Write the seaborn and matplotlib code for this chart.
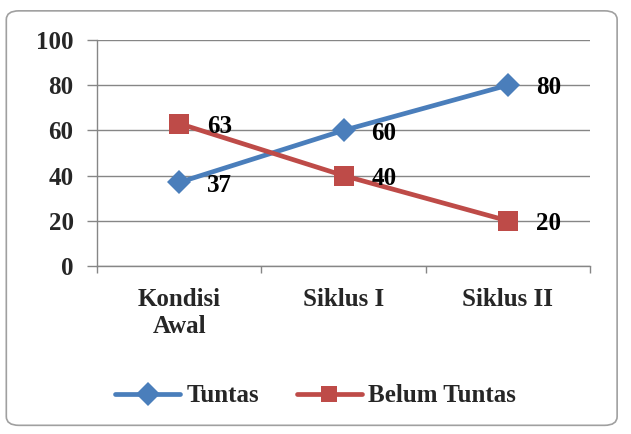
import matplotlib
matplotlib.use("Agg")
import matplotlib.pyplot as plt
import seaborn as sns
import pandas as pd
from matplotlib.patches import FancyBboxPatch
from matplotlib.ticker import FixedLocator

categories = ["Kondisi\nAwal", "Siklus I", "Siklus II"]
tuntas = [37, 60, 80]
belum_tuntas = [63, 40, 20]
series_names = ["Tuntas", "Belum Tuntas"]
y_ticks = [0, 20, 40, 60, 80, 100]

df = pd.DataFrame({
    "Kategori": categories * 2,
    "Nilai": tuntas + belum_tuntas,
    "Seri": [series_names[0]] * 3 + [series_names[1]] * 3,
})

sns.set_theme(style="white")
plt.rcParams["font.family"] = ["Liberation Serif", "DejaVu Serif"]
plt.rcParams["font.weight"] = "bold"

FS = 18

fig = plt.figure(figsize=(6.31, 4.34), dpi=100)
ax = fig.add_axes([0.154, 0.387, 0.781, 0.521])

colors = {"Tuntas": "#4A7EBB", "Belum Tuntas": "#BE4B48"}
markers = {"Tuntas": "D", "Belum Tuntas": "s"}
sizes = {"Tuntas": 12, "Belum Tuntas": 14}

sns.lineplot(data=df, x="Kategori", y="Nilai", hue="Seri", style="Seri",
             palette=colors, markers=markers, dashes=False, linewidth=3.4,
             markersize=12, markeredgewidth=0, ax=ax, legend=True, sort=False)
for line, name in zip(ax.lines, series_names):
    line.set_markersize(sizes[name])

x = list(range(len(categories)))
for vals in (tuntas, belum_tuntas):
    for xi, v in zip(x, vals):
        ax.annotate(str(v), (xi, v), xytext=(20, -2), textcoords="offset points",
                    ha="left", va="center", fontsize=FS, fontweight="bold", color="black")

ax.set_ylim(0, 100)
ax.set_xlim(-0.5, 2.5)
ax.set_yticks(y_ticks)
ax.set_xticks(x)
ax.set_xticklabels(categories, fontsize=FS, fontweight="bold", linespacing=1.2)
ax.tick_params(axis="x", length=0, pad=16)
ax.xaxis.set_minor_locator(FixedLocator([-0.5, 0.5, 1.5, 2.5]))
ax.tick_params(axis="x", which="minor", length=5, color="#868686", width=1, direction="out", bottom=True)
ax.tick_params(axis="y", length=7, color="#868686", width=1, direction="out", left=True, labelsize=FS, pad=10)
for lab in ax.get_yticklabels():
    lab.set_fontweight("bold")
ax.set_xlabel("")
ax.set_ylabel("")
ax.grid(axis="y", color="#868686", linewidth=1)
ax.grid(axis="x", visible=False)
for s in ["top", "right"]:
    ax.spines[s].set_visible(False)
for s in ["left", "bottom"]:
    ax.spines[s].set_color("#868686")
    ax.spines[s].set_linewidth(1)
ax.set_axisbelow(True)

handles, labels = ax.get_legend_handles_labels()
ax.get_legend().remove()
for h in handles:
    h.set_linewidth(3.4)
fig.legend(handles, labels, loc="center", bbox_to_anchor=(0.50, 0.088), ncol=2,
           frameon=False, handlelength=2.6, handletextpad=0.25, columnspacing=1.5,
           prop={"weight": "bold", "size": FS})

border = FancyBboxPatch((0.01, 0.02), 0.968, 0.955, boxstyle="round,pad=0,rounding_size=0.02",
                        transform=fig.transFigure, facecolor="none", edgecolor="#A0A0A0",
                        linewidth=1.2, zorder=-1)
fig.patches.append(border)

fig.savefig("out.png", dpi=100)
